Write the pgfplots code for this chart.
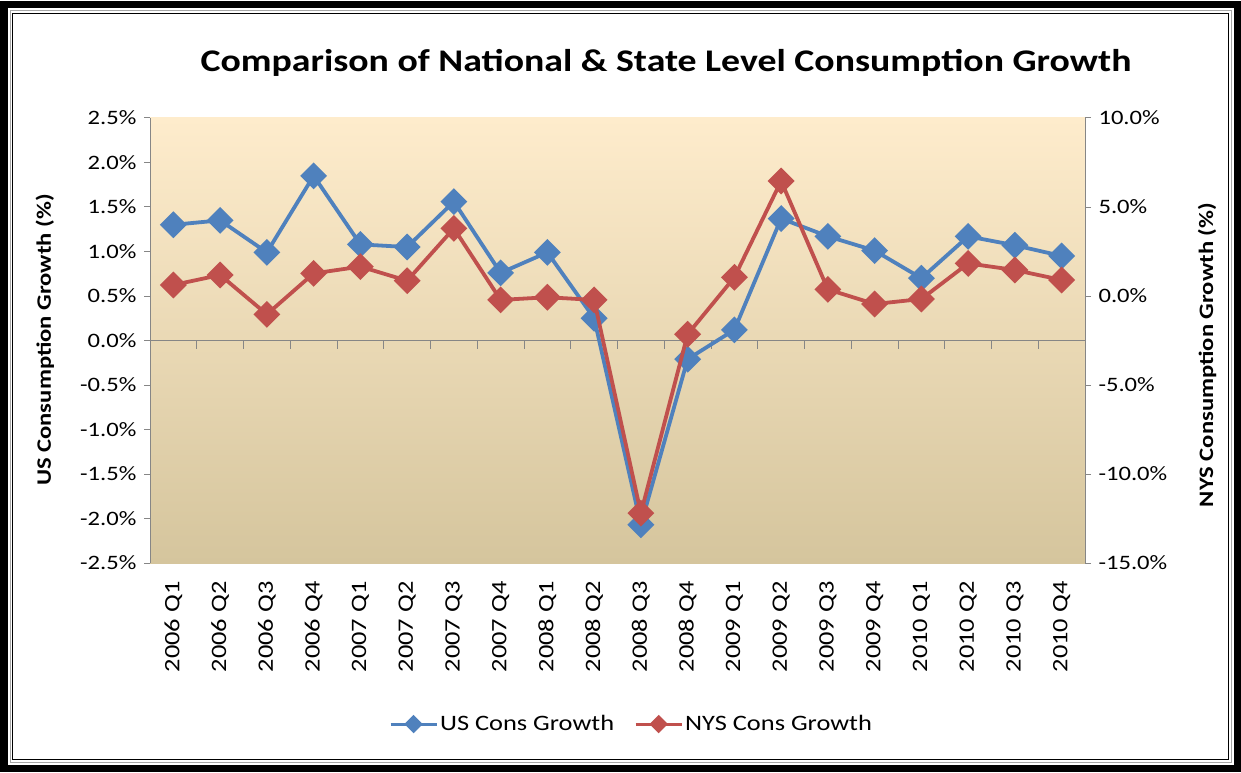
\documentclass[border=0pt]{standalone}
\usepackage{fontspec}
\setmainfont{Carlito}[FakeStretch=1.2]
\usepackage{pgfplots}
\usepackage{pgfplotstable}
\pgfplotsset{compat=1.18}
\definecolor{usblue}{RGB}{79,129,189}
\definecolor{nysred}{RGB}{192,80,77}
\definecolor{axgray}{RGB}{134,134,134}
\definecolor{bgtop}{RGB}{254,236,204}
\definecolor{bgmid}{RGB}{243,233,212}
\definecolor{bgbot}{RGB}{213,197,157}
\newcommand\tickfont{\fontsize{20.5}{24}\selectfont}

\pgfplotstableread{
x us
0 1.30
1 1.35
2 0.99
3 1.85
4 1.08
5 1.05
6 1.56
7 0.76
8 0.99
9 0.25
10 -2.07
11 -0.21
12 0.12
13 1.37
14 1.17
15 1.01
16 0.70
17 1.17
18 1.07
19 0.95
}\usdata

\pgfplotstableread{
x nys
0 0.62
1 1.18
2 -1.03
3 1.27
4 1.65
5 0.86
6 3.80
7 -0.22
8 -0.07
9 -0.22
10 -12.2
11 -2.15
12 1.05
13 6.46
14 0.37
15 -0.45
16 -0.17
17 1.83
18 1.46
19 0.90
}\nysdata

\begin{document}
\begin{tikzpicture}
\useasboundingbox (0pt,0pt) rectangle (1241pt,772pt);
\fill[white] (0pt,0pt) rectangle (1241pt,772pt);
\draw[black, line width=7pt] (4pt,4pt) rectangle (1237pt,767pt);
\draw[gray!70, line width=1pt] (10pt,10pt) rectangle (1231pt,761pt);
\draw[black, line width=1.2pt] (12.5pt,12.5pt) rectangle (1228.5pt,758.5pt);

\node[font=\fontsize{31.5}{36}\selectfont\bfseries] at (666pt,709pt) {Comparison of National \& State Level Consumption Growth};
\node[rotate=90, font=\fontsize{20.5}{24}\selectfont\bfseries] at (45pt,432pt) {US Consumption Growth (\%)};
\node[rotate=90, font=\fontsize{20.5}{24}\selectfont\bfseries] at (1207pt,417pt) {NYS Consumption Growth (\%)};

\begin{axis}[
  at={(150pt,209pt)}, anchor=south west,
  scale only axis, width=935pt, height=445pt,
  xmin=-0.5, xmax=19.5, ymin=-2.5, ymax=2.5,
  axis y line*=left, axis x line*=bottom,
  x axis line style={draw=none},
  y axis line style={axgray, line width=1pt},
  ytick={-2.5,-2,-1.5,-1,-0.5,0,0.5,1,1.5,2,2.5},
  ytick style={axgray, line width=1pt},
  tick align=outside, major tick length=6pt,
  xtick={0,...,19},
  xtick style={draw=none},
  xticklabels={2006 Q1,2006 Q2,2006 Q3,2006 Q4,2007 Q1,2007 Q2,2007 Q3,2007 Q4,2008 Q1,2008 Q2,2008 Q3,2008 Q4,2009 Q1,2009 Q2,2009 Q3,2009 Q4,2010 Q1,2010 Q2,2010 Q3,2010 Q4},
  xticklabel style={rotate=90, anchor=east, font=\fontsize{22}{26}\selectfont, xshift=-9pt},
  yticklabel style={font=\tickfont, xshift=-4pt},
  /pgf/number format/assume math mode=true,
  yticklabel={\pgfmathprintnumber[fixed,fixed zerofill,precision=1]{\tick}\%},
  axis background/.style={shade, top color=bgtop, middle color=bgmid, bottom color=bgbot},
  clip=false,
]
\draw[axgray, line width=1pt] (axis cs:-0.5,0) -- (axis cs:19.5,0);
\pgfplotsinvokeforeach{0,...,19}{\draw[axgray, line width=1pt] (axis cs:#1.5,0) -- ++(0pt,-8pt);}
\addplot[usblue, line width=3.8pt, mark=square*, mark size=7.6pt, mark options={rotate=45, solid, fill=usblue, draw=usblue}] table[x=x,y=us] {\usdata};
\end{axis}

\begin{axis}[
  at={(150pt,209pt)}, anchor=south west,
  scale only axis, width=935pt, height=445pt,
  xmin=-0.5, xmax=19.5, ymin=-15, ymax=10,
  axis y line*=right, axis x line=none,
  y axis line style={axgray, line width=1pt},
  ytick={-15,-10,-5,0,5,10},
  ytick style={axgray, line width=1pt},
  tick align=outside, major tick length=6pt,
  yticklabel style={font=\tickfont, xshift=4pt},
  /pgf/number format/assume math mode=true,
  yticklabel={\pgfmathprintnumber[fixed,fixed zerofill,precision=1]{\tick}\%},
  clip=false,
  legend style={at={(0.515,-0.362)}, anchor=center, draw=none, fill=none, font=\fontsize{22}{26}\selectfont, legend columns=2, /tikz/every even column/.append style={column sep=18pt}},
  legend image code/.code={\draw[mark repeat=2, mark phase=2, #1, line width=3pt, mark size=5pt] plot coordinates {(0pt,0pt) (23pt,0pt) (46pt,0pt)};},
]
\addlegendimage{usblue, mark=square*, mark options={rotate=45, solid, fill=usblue, draw=usblue}}
\addlegendentry{US Cons Growth}
\addplot[nysred, line width=3.8pt, mark=square*, mark size=7.6pt, mark options={rotate=45, solid, fill=nysred, draw=nysred}] table[x=x,y=nys] {\nysdata};
\addlegendentry{NYS Cons Growth}
\end{axis}
\end{tikzpicture}
\end{document}
